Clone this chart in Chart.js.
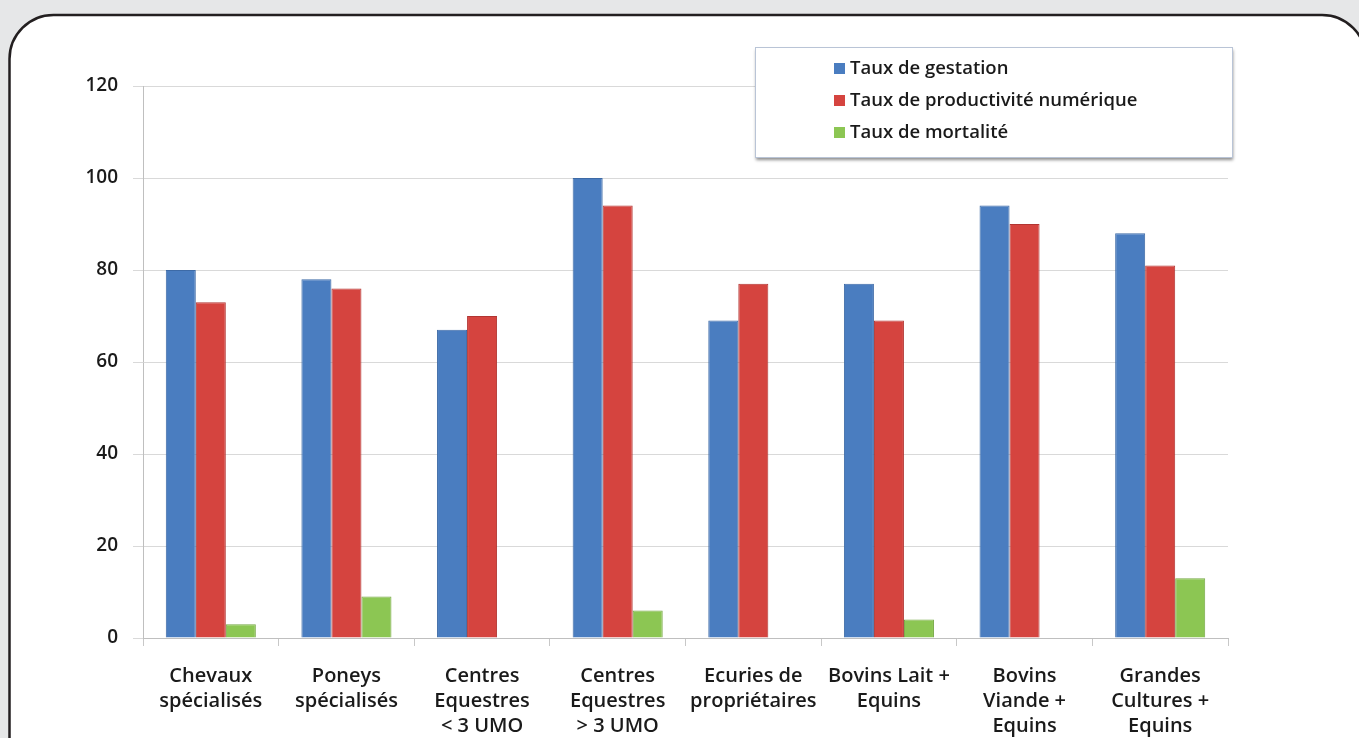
<!DOCTYPE html>
<html><head><meta charset="utf-8">
<script src="https://cdn.jsdelivr.net/npm/chart.js@4.4.1/dist/chart.umd.min.js"></script>
<style>html,body{margin:0;padding:0;background:#e6e7e8;}#wrap{width:1359px;height:738px;position:relative;}</style>
</head><body><div id="wrap"><canvas id="c"></canvas></div>
<script>
const categories = [
  ["Chevaux","spécialisés"],
  ["Poneys","spécialisés"],
  ["Centres","Equestres","< 3 UMO"],
  ["Centres","Equestres","> 3 UMO"],
  ["Ecuries de","propriétaires"],
  ["Bovins Lait +","Equins"],
  ["Bovins","Viande +","Equins"],
  ["Grandes","Cultures +","Equins"]
];
const seriesNames = ["Taux de gestation","Taux de productivité numérique","Taux de mortalité"];
const gestation = [80, 78, 67, 100, 69, 77, 94, 88];
const productivite = [73, 76, 70, 94, 77, 69, 90, 81];
const mortalite = [3, 9, 0, 6, 0, 4, 0, 13];
const yTicks = [0, 20, 40, 60, 80, 100, 120];
const colors = ["#4a7dc0", "#d5443f", "#8cc653"];
const borders = ["#3d6aa6", "#b23532", "#76a844"];

const frame = {
  id: 'frame',
  beforeDraw(chart) {
    const ctx = chart.ctx;
    ctx.save();
    ctx.fillStyle = '#e6e7e8';
    ctx.fillRect(0, 0, chart.width, chart.height);
    ctx.beginPath();
    ctx.roundRect(9.5, 15, 1356.5, 800, 44);
    ctx.fillStyle = '#ffffff';
    ctx.fill();
    ctx.lineWidth = 2.5;
    ctx.strokeStyle = '#231f20';
    ctx.stroke();
    ctx.restore();
  }
};

const boxLegend = {
  id: 'boxLegend',
  afterDraw(chart) {
    const ctx = chart.ctx;
    ctx.save();
    const x = 755, y = 47, w = 477, h = 110;
    ctx.shadowColor = 'rgba(0,0,0,0.45)';
    ctx.shadowOffsetX = 1; ctx.shadowOffsetY = 3; ctx.shadowBlur = 3;
    ctx.fillStyle = '#ffffff';
    ctx.fillRect(x, y, w, h);
    ctx.shadowColor = 'transparent';
    ctx.strokeStyle = '#b9c4d6';
    ctx.lineWidth = 1;
    ctx.strokeRect(x + 0.5, y + 0.5, w, h);
    ctx.font = '600 18.5px "Open Sans"';
    ctx.textBaseline = 'middle';
    const rows = [68, 100, 132];
    chart.data.datasets.forEach((ds, i) => {
      ctx.fillStyle = ds.backgroundColor;
      ctx.fillRect(834, rows[i] - 5, 11, 11);
      ctx.fillStyle = '#1a1a1a';
      ctx.fillText(ds.label, 850, rows[i] + 1);
    });
    ctx.restore();
  }
};

new Chart(document.getElementById('c'), {
  type: 'bar',
  data: {
    labels: categories,
    datasets: [
      { label: seriesNames[0], data: gestation, backgroundColor: colors[0], borderColor: borders[0], borderWidth: 1 },
      { label: seriesNames[1], data: productivite, backgroundColor: colors[1], borderColor: borders[1], borderWidth: 1 },
      { label: seriesNames[2], data: mortalite, backgroundColor: colors[2], borderColor: borders[2], borderWidth: 1 }
    ]
  },
  options: {
    responsive: true,
    maintainAspectRatio: false,
    animation: false,
    layout: { padding: { top: 86, right: 131, left: 0, bottom: 0 } },
    plugins: { legend: { display: false }, tooltip: { enabled: false } },
    datasets: { bar: { barPercentage: 1, categoryPercentage: 0.664 } },
    scales: {
      x: {
        afterFit(s) { s.height = 100; },
        grid: { offset: true, drawOnChartArea: false, tickLength: 8, color: '#c8c8c8' },
        border: { color: '#bfbfbf' },
        ticks: { color: '#1a1a1a', font: { family: 'Open Sans', size: 20, weight: '600', lineHeight: 1.25 }, padding: 18, maxRotation: 0, autoSkip: false }
      },
      y: {
        min: 0, max: 120,
        afterFit(s) { s.width = 143; },
        afterBuildTicks(s) { s.ticks = yTicks.map(v => ({ value: v })); },
        grid: { color: '#d9d9d9', tickLength: 10 },
        border: { color: '#bfbfbf' },
        ticks: { color: '#1a1a1a', font: { family: 'Open Sans', size: 19, weight: '600' }, padding: 15 }
      }
    }
  },
  plugins: [frame, boxLegend]
});
</script></body></html>
